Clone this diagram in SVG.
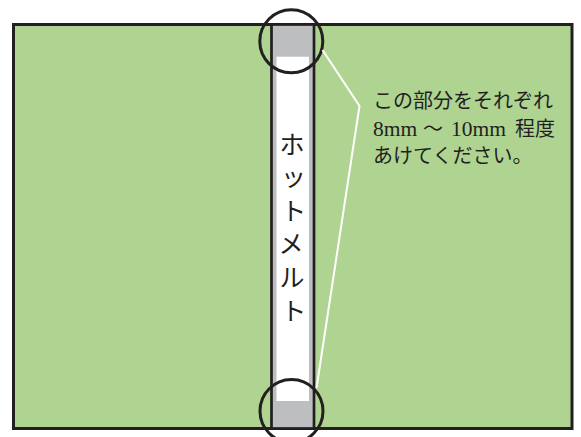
<svg xmlns="http://www.w3.org/2000/svg" width="581" height="437" viewBox="0 0 581 437">
<style>
.ink{stroke:#231f20;fill:none}
.jp{font-family:"Liberation Serif","Noto Sans CJK JP",serif;fill:#231f20}
.lat{font-size:21.5px}
.vt{font-family:"Noto Sans CJK JP",sans-serif;font-size:25px;fill:#231f20;text-anchor:middle}
</style>
<rect width="581" height="437" fill="#ffffff"/>
<g id="cover">
<rect x="13.5" y="24.5" width="558.5" height="404" fill="#afd391" stroke="#231f20" stroke-width="3"/>
</g>
<g id="spine">
<rect x="271.5" y="24.5" width="42.5" height="404" fill="#bcbec0" stroke="#231f20" stroke-width="2.7"/>
<rect x="276.5" y="56.7" width="32.5" height="344.3" fill="#ffffff"/>
<text class="vt"><tspan x="292" y="153.5">ホ</tspan><tspan x="293.5" y="186">ッ</tspan><tspan x="293.7" y="219.5">ト</tspan><tspan x="291" y="252.8">メ</tspan><tspan x="292" y="286.5">ル</tspan><tspan x="293.7" y="319.5">ト</tspan></text>
</g>
<g id="circle-top"><circle cx="291.3" cy="41.3" r="31.5" class="ink" stroke-width="3"/></g>
<g id="circle-bottom"><circle cx="291.5" cy="411" r="31.5" class="ink" stroke-width="3"/></g>
<g id="connectors">
<polyline points="322.5,50 359.5,106 316.5,388" fill="none" stroke="#ffffff" stroke-width="2"/>
</g>
<g id="note">
<text class="jp" font-size="20"><tspan x="373" y="108">この部分をそれぞれ</tspan><tspan x="373" y="135.7" class="lat">8mm</tspan><tspan x="423" y="135.7">〜</tspan><tspan x="451" y="135.7" class="lat">10mm</tspan><tspan x="515" y="135.7">程度</tspan><tspan x="373" y="163">あけてください。</tspan></text>
</g>
</svg>
